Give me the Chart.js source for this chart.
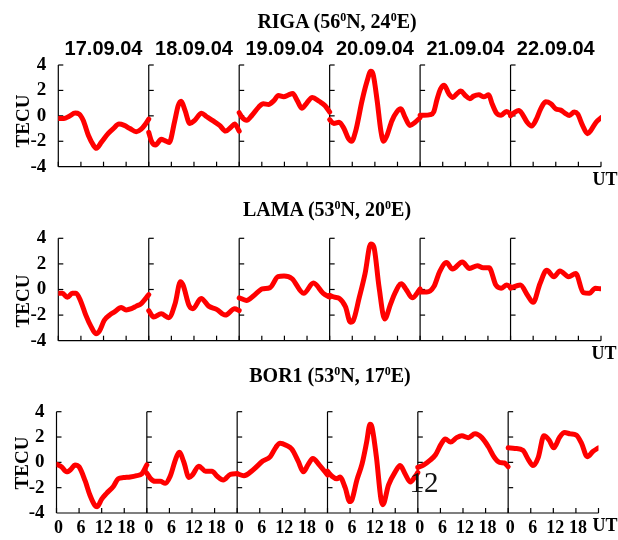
<!DOCTYPE html>
<html><head><meta charset="utf-8">
<script src="https://cdn.jsdelivr.net/npm/chart.js@4.4.1/dist/chart.umd.min.js"></script>
<style>
html,body{margin:0;padding:0;background:#fff;}
body{width:618px;height:540px;position:relative;overflow:hidden;}
.t{position:absolute;white-space:nowrap;text-align:center;color:#000;}
.box{position:absolute;left:0;line-height:0;}
sup{font-size:0.6em;vertical-align:0.55em;line-height:0;}
</style></head><body>
<script>
// ---------- data ----------
const DATES = ['17.09.04','18.09.04','19.09.04','20.09.04','21.09.04','22.09.04'];
const HOUR_LABELS = ['0','6','12','18'];
const STATION_NAMES = ['RIGA','LAMA','BOR1'];
const STATION_LAT = ['56','53','53'];
const STATION_LON = ['24','20','17'];
const Y_LABEL = 'TECU';
const X_LABEL = 'UT';

// [hour of day, TEC] per day
const RIGA_TEC = [
 [[0,-0.2],[1.5,-0.2],[2.8,-0.05],[4.5,0.22],[5.5,0.15],[6.6,-0.35],[8,-1.55],[9.4,-2.35],[10.1,-2.55],[11.5,-2.05],[13.2,-1.4],[14.6,-1.0],[16.1,-0.65],[17.5,-0.75],[19,-1.0],[20.7,-1.25],[22,-1.05],[23,-0.7],[24,-0.25]],
 [[0,-1.3],[0.8,-2.05],[1.8,-2.3],[3.3,-1.85],[4.3,-1.95],[5.4,-2.1],[6.9,-0.4],[7.8,0.8],[8.6,1.15],[9.6,0.45],[10.9,-0.6],[12.2,-0.35],[14,0.2],[15.3,-0.05],[17.1,-0.4],[18.8,-0.75],[20.4,-1.2],[21.8,-0.9],[22.8,-0.65],[24,-1.2]],
 [[0,0.25],[0.7,-0.1],[2,-0.35],[3.4,0.05],[5.2,0.7],[6.4,0.95],[7.8,0.9],[9.2,1.2],[10.4,1.6],[11.8,1.5],[13.1,1.65],[14.2,1.75],[15.4,1.2],[16.6,0.6],[17.9,1.0],[19.4,1.45],[21.2,1.15],[22.8,0.8],[24,0.3]],
 [[0,-0.3],[1.1,-0.6],[2.5,-0.5],[3.8,-1.0],[5.0,-1.8],[5.8,-2.0],[6.9,-1.2],[8.6,1.2],[9.9,2.7],[10.9,3.5],[11.5,3.3],[12.6,1.2],[13.6,-1.2],[14.3,-2.0],[15.2,-1.55],[16.5,-0.4],[17.8,0.3],[18.9,0.55],[20,-0.1],[21.3,-0.75],[22.7,-0.5],[24,-0.15]],
 [[0,0.05],[1,0.05],[2.7,0.1],[3.6,0.3],[4.5,1.3],[5.4,2.1],[6.4,2.4],[7.6,1.75],[8.7,1.45],[9.8,1.75],[10.8,1.95],[12,1.6],[13.2,1.35],[14.2,1.55],[15.6,1.65],[16.9,1.5],[18.2,1.65],[19.1,0.95],[20.3,0.2],[21.5,0.05],[22.9,0.35],[24,0.15]],
 [[0,0],[1.2,0.3],[2.2,0.42],[3.1,0.15],[4.4,-0.5],[5.6,-0.8],[6.7,-0.35],[8,0.55],[9.3,1.1],[10.7,0.95],[12,0.55],[13.3,0.45],[14.5,0.2],[15.6,0.03],[16.9,0.3],[17.8,0.15],[19.1,-0.75],[20.4,-1.4],[21.3,-1.15],[22.7,-0.5],[24,-0.15]]
];
const LAMA_TEC = [
 [[0,-0.3],[1.1,-0.3],[2.4,-0.6],[3.7,-0.3],[4.7,-0.3],[6,-0.95],[7.3,-2.0],[8.7,-2.9],[10,-3.45],[10.9,-3.25],[12.2,-2.4],[13.6,-2.0],[14.9,-1.75],[16.7,-1.4],[18,-1.6],[19.4,-1.5],[20.7,-1.3],[22,-1.1],[24,-0.4]],
 [[0,-1.65],[1.3,-2.15],[3.3,-1.9],[5.3,-2.2],[7,-1.1],[8.4,0.6],[9.1,0.35],[10.7,-1.25],[11.7,-1.5],[13.9,-0.7],[15.9,-1.3],[18,-1.55],[20.3,-2.0],[22.8,-1.5],[24,-1.65]],
 [[0,-0.65],[1.9,-0.85],[4,-0.45],[6.1,0.05],[8.2,0.15],[10.3,1.0],[11.9,1.05],[14,0.85],[17.1,-0.3],[19.7,0.5],[22.3,-0.3],[24,-0.6]],
 [[0,-0.45],[1.3,-0.6],[2.6,-0.7],[4.2,-1.35],[5.5,-2.55],[6.3,-2.4],[7.8,-0.7],[9.4,1.25],[10.9,3.55],[11.7,3.35],[13.1,0.2],[14.6,-2.3],[16.2,-1.1],[17.3,-0.3],[19,0.45],[20.4,-0.05],[21.9,-0.65],[24,0.05]],
 [[0,-0.2],[1.8,-0.2],[3.7,0.25],[5.2,1.4],[7,2.1],[8.6,1.6],[11.2,2.15],[13.1,1.65],[15.2,1.85],[16.7,1.7],[18.3,1.7],[20.1,0.35],[21.5,0.1],[23,0.35],[24,0.2]],
 [[0,0.1],[2.6,0.35],[4.5,-0.45],[6,-1.0],[7.8,0.45],[9.6,1.5],[11.5,1.0],[13.1,1.45],[15.4,1.0],[17.3,1.25],[19.3,-0.25],[20.9,-0.3],[22.5,0.1],[24,0.05]]
];
const BOR1_TEC = [
 [[0,-0.15],[1.3,-0.35],[2.7,-0.75],[4,-0.5],[4.9,-0.2],[6,-0.35],[7.6,-1.45],[8.9,-2.6],[10.2,-3.4],[10.8,-3.5],[12,-2.9],[13.3,-2.45],[15.1,-1.9],[16.4,-1.3],[17.8,-1.2],[19.6,-1.15],[21.3,-1.05],[22.7,-0.9],[24,-0.2]],
 [[0,-0.85],[0.9,-1.25],[2.2,-1.5],[3.6,-1.5],[4.9,-1.65],[6.2,-1.1],[7.6,0.2],[8.6,0.8],[9.8,0.05],[11.2,-1.2],[12.1,-1.0],[13.8,-0.3],[15.6,-0.7],[17.3,-0.7],[18.7,-1.1],[20.3,-1.4],[22.2,-0.95],[24,-0.9]],
 [[0,-0.9],[1.8,-1.05],[4.2,-0.6],[6.8,0.1],[8.8,0.45],[10.3,1.2],[11.4,1.5],[13,1.35],[14.5,1.05],[16.2,0.1],[17.6,-0.75],[18.8,-0.2],[20.1,0.3],[21.8,-0.2],[24,-1.0]],
 [[0,-0.7],[1.2,-1.1],[2.5,-1.3],[3.3,-1.15],[4.7,-2.0],[5.9,-3.1],[6.5,-2.95],[7.8,-1.4],[9.2,-0.1],[10.4,1.6],[11.3,3.0],[11.8,2.8],[13,0.4],[14.2,-2.9],[14.7,-3.35],[16.2,-1.8],[18,-0.75],[19.3,-0.25],[20.6,-0.9],[22,-1.55],[23.3,-1.1],[24,-0.8]],
 [[0,-0.4],[1.6,-0.2],[3.2,0.15],[4.7,0.6],[6.1,1.4],[7.3,1.85],[8.7,1.6],[10.3,1.95],[11.7,2.1],[13.4,1.95],[15.2,2.25],[17,1.95],[18.7,1.25],[20.3,0.4],[21.7,0.0],[23,-0.05],[24,-0.35]],
 [[0,1.15],[1.8,1.1],[3.9,0.95],[5.4,0.2],[6.6,-0.25],[8,0.4],[9.5,2.1],[10.9,1.75],[12.1,1.15],[13.7,2.0],[15,2.35],[16.5,2.25],[18.1,2.15],[19.5,1.5],[21,0.45],[22.5,0.85],[24,1.15]]
];
const STRAY_TEXT = '12';

// ---------- layout ----------
const SERIES = [RIGA_TEC, LAMA_TEC, BOR1_TEC];
const LAYOUT = [
 {top:30, height:150, padTop:35,   padRight:17,   yW:58.3, padBottom:13.3, xLabels:false, dates:true,  title:[337,21],  tecu:[22.7,121], ut:[605,179]},
 {top:200,height:153, padTop:38.3, padRight:17,   yW:58.3, padBottom:12.3, xLabels:false, dates:false, title:[327,209], tecu:[23,301],   ut:[604,352.5]},
 {top:380,height:160, padTop:31.7, padRight:19.5, yW:56.5, padBottom:0, xH:27, xLabels:true,  dates:false, title:[330,375], tecu:[22,463],   ut:[605,524.5]}
];

function addText(html, cx, cy, font, w, h, extra){
  const d = document.createElement('div');
  d.className = 't';
  d.innerHTML = html;
  d.style.font = font;
  d.style.left = (cx - w/2) + 'px';
  d.style.top = (cy - h/2) + 'px';
  d.style.width = w + 'px';
  d.style.height = h + 'px';
  d.style.lineHeight = h + 'px';
  if (extra) Object.assign(d.style, extra);
  document.body.appendChild(d);
  return d;
}

const framePlugin = {
  id:'frame',
  beforeDatasetsDraw(chart){
    const {ctx, scales:{x, y}} = chart;
    const yTop = y.getPixelForValue(4), yBot = y.getPixelForValue(-4);
    ctx.save();
    ctx.strokeStyle = '#000';
    ctx.lineWidth = 1.2;
    const seg = (a,b,c,d)=>{ctx.beginPath();ctx.moveTo(a,b);ctx.lineTo(c,d);ctx.stroke();};
    seg(x.getPixelForValue(0), yBot, x.getPixelForValue(144), yBot);
    for (let d = 0; d < DATES.length; d++){
      const xd = x.getPixelForValue(d*24);
      seg(xd, yTop, xd, yBot);
      for (const v of [4,2,0,-2]) seg(xd, y.getPixelForValue(v), xd+5, y.getPixelForValue(v));
    }
    for (let h = 0; h <= 144; h += 6){
      const xh = x.getPixelForValue(h);
      seg(xh, yBot, xh, yBot-5);
    }
    ctx.restore();
  }
};

const datePlugin = {
  id:'dates',
  afterDraw(chart){
    if (!chart.options.plugins.dates || !chart.options.plugins.dates.show) return;
    const {ctx, scales:{x}} = chart;
    ctx.save();
    ctx.fillStyle = '#000';
    ctx.font = 'bold 20px "Liberation Sans", Arial, sans-serif';
    ctx.textAlign = 'center';
    ctx.textBaseline = 'alphabetic';
    DATES.forEach((lab, d) => ctx.fillText(lab, x.getPixelForValue(d*24+12), 48 - 30 + 7.2));
    ctx.restore();
  }
};

SERIES.forEach((tec, i) => {
  const L = LAYOUT[i];
  const box = document.createElement('div');
  box.className = 'box';
  box.style.top = L.top + 'px';
  const cv = document.createElement('canvas');
  cv.width = 618; cv.height = L.height;
  cv.style.width = '618px'; cv.style.height = L.height + 'px';
  box.appendChild(cv);
  document.body.appendChild(box);

  const datasets = tec.map((day, d) => ({
    data: day.map(([h, v]) => ({x: d*24 + h, y: v})),
    borderColor:'#ff0000', borderWidth:5, pointRadius:0, fill:false,
    cubicInterpolationMode:'monotone', borderCapStyle:'round', borderJoinStyle:'round'
  }));

  const xScale = {type:'linear', min:0, max:144, display:L.xLabels,
     grid:{display:false, drawTicks:false}, border:{display:false},
     ticks:{display:L.xLabels, stepSize:6, autoSkip:false, maxRotation:0, minRotation:0, padding:5, labelOffset:2, color:'#000',
            font:{family:'"Liberation Serif"', weight:'bold', size:18},
            callback:(v)=> v >= 144 ? '' : HOUR_LABELS[(v % 24)/6]}};
  if (L.xLabels) xScale.afterFit = (s)=>{ s.height = L.xH; };

  new Chart(cv, {
    type:'line',
    data:{datasets},
    options:{
      responsive:false, animation:false, devicePixelRatio:1,
      layout:{padding:{top:L.padTop, right:L.padRight, left:0, bottom:L.padBottom}},
      plugins:{legend:{display:false}, tooltip:{enabled:false}, dates:{show:L.dates}},
      scales:{
        x:xScale,
        y:{min:-4, max:4,
           grid:{display:false, drawTicks:true, tickLength:12}, border:{display:false},
           ticks:{stepSize:2, autoSkip:false, padding:0, color:'#000', font:{family:'"Liberation Serif"', weight:'bold', size:19, lineHeight:1}},
           afterFit:(s)=>{ s.width = L.yW; }}
      }
    },
    plugins:[framePlugin, datePlugin]
  });

  addText(STATION_NAMES[i] + ' (' + STATION_LAT[i] + '<sup>0</sup>N, ' + STATION_LON[i] + '<sup>0</sup>E)',
          L.title[0], L.title[1], 'bold 20px "Liberation Serif", serif', 240, 24);
  addText(Y_LABEL, L.tecu[0], L.tecu[1], 'bold 19px "Liberation Serif", serif', 70, 24, {transform:'rotate(-90deg)'});
  addText(X_LABEL, L.ut[0], L.ut[1], 'bold 18px "Liberation Serif", serif', 30, 20);
});

addText(STRAY_TEXT, 424, 482, '29px "Liberation Serif", serif', 40, 34, {color:'#111'});
</script>
</body></html>
